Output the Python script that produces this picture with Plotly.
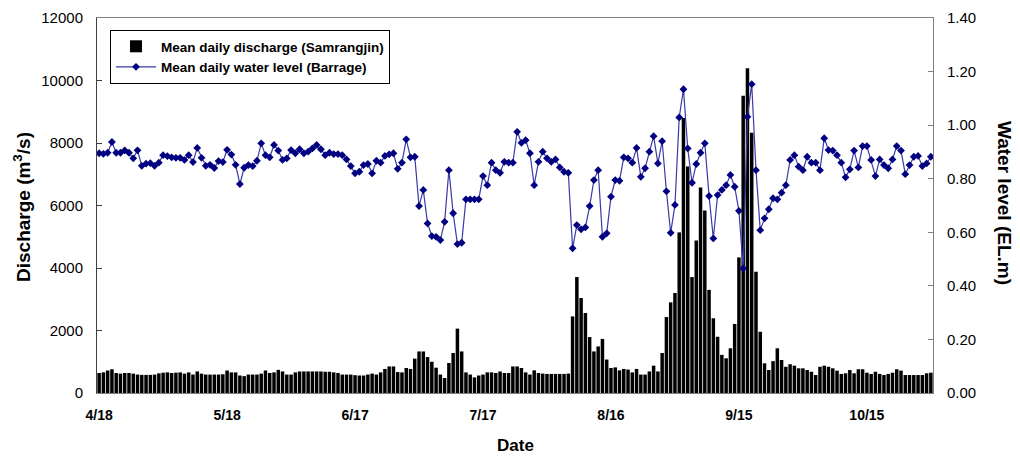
import plotly.graph_objects as go

# ---- data (daily values, 4/18 .. 10/30) ----
tick_days = [0, 30, 60, 90, 120, 150, 180]
tick_labels = ["4/18", "5/18", "6/17", "7/17", "8/16", "9/15", "10/15"]

discharge = [
    640, 660, 720, 760, 640, 620, 640, 640, 620, 590,
    580, 580, 580, 590, 630, 650, 660, 640, 650, 660,
    620, 660, 590, 690, 620, 590, 590, 590, 590, 600,
    720, 660, 660, 560, 540, 590, 590, 590, 620, 720,
    640, 660, 740, 690, 590, 590, 660, 690, 690, 690,
    690, 690, 690, 680, 680, 660, 640, 590, 590, 590,
    570, 560, 560, 590, 620, 590, 660, 770, 850, 850,
    670, 660, 800, 770, 1100, 1330, 1330, 1150, 1000, 810,
    590, 480, 960, 1280, 2060, 1330, 660, 590, 500, 560,
    590, 660, 660, 640, 690, 640, 640, 850, 850, 800,
    660, 590, 725, 640, 620, 610, 610, 610, 610, 610,
    620, 2450, 3710, 3040, 2560, 1790, 1330, 1490, 1730, 1070,
    800, 820, 725, 770, 750, 660, 770, 590, 590, 690,
    875, 690, 1280, 2430, 2900, 3200, 5140, 8800, 7250, 3710,
    4880, 6580, 5840, 3300, 2390, 1800, 1220, 1110, 1430, 2210,
    4340, 9510, 10390, 8330, 3880, 1960, 950, 735, 1020, 1430,
    1055, 840, 920, 875, 790, 790, 735, 680, 575, 840,
    875, 840, 790, 715, 610, 630, 735, 630, 760, 760,
    650, 610, 680, 610, 575, 610, 650, 760, 715, 575,
    575, 575, 575, 575, 630, 650,
]

water_level = [
    0.895, 0.893, 0.897, 0.937, 0.897, 0.897, 0.906, 0.897, 0.876, 0.906,
    0.848, 0.856, 0.858, 0.848, 0.860, 0.888, 0.884, 0.880, 0.878, 0.878,
    0.870, 0.888, 0.862, 0.915, 0.878, 0.848, 0.852, 0.840, 0.866, 0.862,
    0.908, 0.890, 0.852, 0.780, 0.841, 0.851, 0.847, 0.867, 0.932, 0.888,
    0.880, 0.926, 0.905, 0.870, 0.876, 0.907, 0.895, 0.910, 0.895, 0.901,
    0.913, 0.926, 0.910, 0.888, 0.897, 0.892, 0.892, 0.888, 0.872, 0.847,
    0.820, 0.826, 0.851, 0.855, 0.820, 0.867, 0.860, 0.885, 0.891, 0.895,
    0.837, 0.860, 0.947, 0.880, 0.882, 0.698, 0.758, 0.633, 0.586, 0.583,
    0.571, 0.639, 0.832, 0.671, 0.556, 0.561, 0.723, 0.723, 0.723, 0.723,
    0.810, 0.776, 0.860, 0.832, 0.822, 0.863, 0.860, 0.860, 0.975, 0.934,
    0.944, 0.895, 0.776, 0.863, 0.901, 0.876, 0.863, 0.872, 0.842, 0.826,
    0.822, 0.540, 0.627, 0.611, 0.618, 0.698, 0.795, 0.832, 0.583, 0.596,
    0.733, 0.795, 0.792, 0.880, 0.876, 0.860, 0.915, 0.807, 0.839, 0.901,
    0.959, 0.857, 0.940, 0.753, 0.598, 0.702, 1.029, 1.134, 0.913, 0.785,
    0.855, 0.897, 0.932, 0.735, 0.577, 0.739, 0.758, 0.776, 0.814, 0.770,
    0.680, 0.465, 1.031, 1.153, 0.832, 0.608, 0.652, 0.686, 0.727, 0.723,
    0.748, 0.776, 0.870, 0.888, 0.845, 0.832, 0.882, 0.860, 0.860, 0.832,
    0.951, 0.907, 0.905, 0.888, 0.860, 0.805, 0.835, 0.905, 0.842, 0.922,
    0.922, 0.870, 0.810, 0.872, 0.851, 0.839, 0.872, 0.922, 0.905, 0.817,
    0.851, 0.882, 0.885, 0.847, 0.857, 0.882,
]

days = list(range(len(discharge)))
FONT = "Arial, Liberation Sans, sans-serif"
PW, PH, L, T = 836, 375, 97, 18  # plot area in pixels


def px_x(x):
    return (x - L) / PW


def px_y(y):
    return 1 - (y - T) / PH


fig = go.Figure()
fig.add_trace(go.Bar(
    x=days, y=discharge, name="Mean daily discharge (Samrangjin)",
    marker=dict(color="black", line=dict(width=0)), yaxis="y",
))
fig.add_trace(go.Scatter(
    x=days, y=water_level, name="Mean daily water level (Barrage)",
    mode="lines+markers", yaxis="y2",
    line=dict(color="#3a3aa8", width=1.2),
    marker=dict(symbol="diamond", size=6, color="#000080"),
))

fig.update_layout(
    width=1020, height=457,
    margin=dict(l=97, r=87, t=18, b=64),
    plot_bgcolor="white", paper_bgcolor="white",
    bargap=0.18,
    font=dict(family=FONT, color="black"),
    showlegend=True,
    legend=dict(
        x=px_x(110), y=px_y(30), xanchor="left", yanchor="top",
        bgcolor="white", bordercolor="black", borderwidth=1,
        font=dict(family=FONT, size=13.5, weight="bold"),
        itemwidth=40, tracegroupgap=0,
    ),
    xaxis=dict(
        range=[-0.5, len(days) - 0.5], tickvals=tick_days, ticktext=tick_labels,
        showline=True, linecolor="#808080", linewidth=1, mirror=True,
        ticks="", showgrid=False, zeroline=False, ticklabelstandoff=9,
        automargin=False,
        tickfont=dict(family=FONT, size=14, weight="bold"),
    ),
    yaxis=dict(
        range=[0, 12000], dtick=2000, tickformat="d",
        showline=True, linecolor="#404040", linewidth=1,
        ticks="inside", ticklen=5, tickcolor="#404040",
        showgrid=False, zeroline=False, ticklabelstandoff=10,
        automargin=False,
        tickfont=dict(family=FONT, size=15),
    ),
    yaxis2=dict(
        range=[0, 1.4], dtick=0.2, tickformat=".2f",
        overlaying="y", side="right",
        showline=True, linecolor="#808080", linewidth=1,
        ticks="inside", ticklen=5, tickcolor="#808080",
        showgrid=False, zeroline=False, ticklabelstandoff=10,
        automargin=False,
        tickfont=dict(family=FONT, size=15),
    ),
    annotations=[
        dict(text="<b>Date</b>", xref="paper", yref="paper",
             x=px_x(515), y=px_y(445), showarrow=False,
             xanchor="center", yanchor="middle",
             font=dict(family=FONT, size=17)),
        dict(text="<b>Discharge (m<sup>3</sup>/s)</b>", xref="paper", yref="paper",
             x=px_x(22), y=px_y(207), textangle=-90, showarrow=False,
             xanchor="center", yanchor="middle",
             font=dict(family=FONT, size=19)),
        dict(text="<b>Water level (EL.m)</b>", xref="paper", yref="paper",
             x=px_x(1005), y=px_y(203), textangle=90, showarrow=False,
             xanchor="center", yanchor="middle",
             font=dict(family=FONT, size=19)),
    ],
)

fig.write_html("out.html")
